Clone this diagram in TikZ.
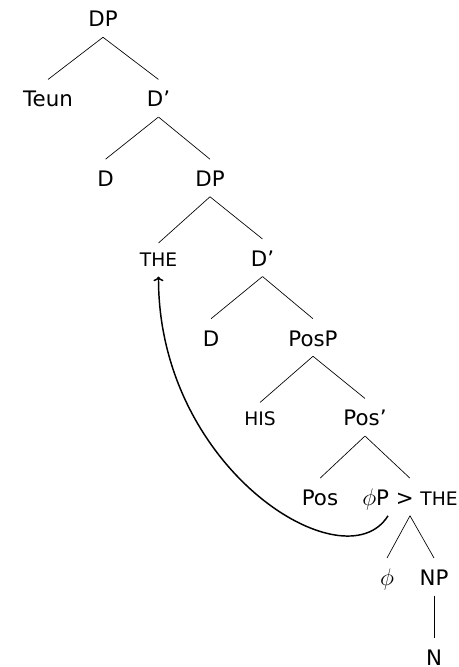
\RequirePackage{fix-cm}
\documentclass[tikz,border=0pt]{standalone}
\usepackage{fontspec}
\setmainfont{DejaVu Sans}
\usetikzlibrary{arrows.meta}
\newcommand\mysc[1]{{\fontsize{14pt}{16pt}\selectfont #1}}
\newcommand\myphi{{\fontsize{18pt}{20pt}\selectfont$\phi$}}
\begin{document}
\begin{tikzpicture}[x=0.75pt,y=-0.75pt,
  lab/.style={anchor=base, inner xsep=1pt, inner ysep=7.5pt, text height=12.75pt, text depth=0pt, font=\fontsize{16pt}{18pt}\selectfont},
  sclab/.style={lab, text height=9.75pt},
  edge/.style={line width=0.5pt},
  move/.style={-{To[length=3.5pt,width=7.5pt]}, line width=1.1pt}]
\useasboundingbox (0,0) rectangle (459,667);
% level 1
\node[lab] (DPa) at (103,27) {DP};
% level 2
\node[lab] (Teun) at (48,106.75) {Teun};
\node[lab] (Dba) at (158.5,106.75) {D’};
% level 3
\node[lab] (Da) at (105.5,186.5) {D};
\node[lab] (DPb) at (210,186.5) {DP};
% level 4
\node[sclab] (THE) at (158.5,266.25) {\mysc{THE}};
\node[lab] (Dbb) at (262.5,266.25) {D’};
% level 5
\node[lab] (Db) at (211,346) {D};
\node[lab] (PosP) at (313,346) {PosP};
% level 6
\node[sclab] (HIS) at (260,425.75) {\mysc{HIS}};
\node[lab] (Posb) at (365,425.75) {Pos’};
% level 7
\node[lab] (Pos) at (320,505.5) {Pos};
\node[lab] (phiP) at (410,505.5) {\myphi P > \mysc{THE}};
% level 8
\node[lab] (phi) at (387,585.25) {\myphi};
\node[lab] (NP) at (434,585.25) {NP};
% level 9
\node[lab] (N) at (434,665) {N};
% edges
\draw[edge] (DPa.south) -- (Teun.north);
\draw[edge] (DPa.south) -- (Dba.north);
\draw[edge] (Dba.south) -- (Da.north);
\draw[edge] (Dba.south) -- (DPb.north);
\draw[edge] (DPb.south) -- (THE.north);
\draw[edge] (DPb.south) -- (Dbb.north);
\draw[edge] (Dbb.south) -- (Db.north);
\draw[edge] (Dbb.south) -- (PosP.north);
\draw[edge] (PosP.south) -- (HIS.north);
\draw[edge] (PosP.south) -- (Posb.north);
\draw[edge] (Posb.south) -- (Pos.north);
\draw[edge] (Posb.south) -- (phiP.north);
\draw[edge] (phiP.south) -- (phi.north);
\draw[edge] (phiP.south) -- (NP.north);
\draw[edge] (NP.south) -- (N.north);
% movement arrow
\coordinate (mvS) at ([xshift=-16.5pt]phiP.south);
\draw[move] (mvS) .. controls (345,585) and (158,470) .. (THE.south);
\end{tikzpicture}
\end{document}
